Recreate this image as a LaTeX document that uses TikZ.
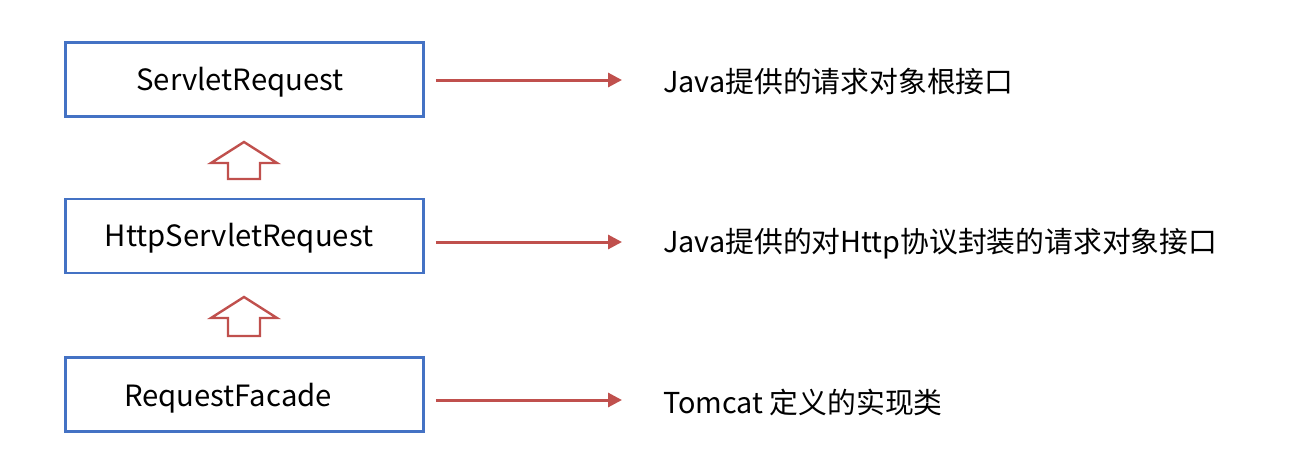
\documentclass[tikz,border=0pt]{standalone}
\usepackage{fontspec}
\setmainfont{Noto Sans CJK SC}
\usetikzlibrary{arrows.meta}
\definecolor{boxblue}{HTML}{4472C4}
\definecolor{arrred}{HTML}{C0504D}
\begin{document}
\begin{tikzpicture}[x=1pt,y=-1pt,
  cls/.style={draw=boxblue,line width=2.6pt,fill=white,minimum width=358pt,minimum height=74pt,inner sep=0pt},
  lbl/.style={inner sep=0pt,font=\fontsize{29.3}{34}\selectfont},
  desc/.style={anchor=west,inner sep=0pt,font=\fontsize{28.8}{34}\selectfont},
  redarr/.style={draw=arrred,line width=3pt,-{Triangle[length=14pt,width=14pt]}},
  hollow/.style={draw=arrred,line width=2.4pt,fill=white,line join=miter}]
\useasboundingbox (0,0) rectangle (1304,464);
\node[cls] (a) at (244.5,79.5) {};
\node[cls] (b) at (244.5,236) {};
\node[cls] (c) at (244.5,394.5) {};
\node[lbl] (la) at (240,82) {ServletRequest};
\node[lbl] (lb) at (239,238) {HttpServletRequest};
\node[lbl] (lc) at (228,398) {RequestFacade};
\node[desc] (ta) at (663,82) {Java提供的请求对象根接口};
\node[desc] (tb) at (663,244) {Java提供的对Http协议封装的请求对象接口};
\node[desc] (tc) at (663,402) {Tomcat 定义的实现类};
\coordinate (ea) at (622,80);
\coordinate (eb) at (622,242);
\coordinate (ec) at (622,400);
\draw[redarr] (a.east |- ea) ++(11,0) coordinate (sa) -- (ea);
\draw[redarr] (b.east |- eb) ++(11,0) coordinate (sb) -- (eb);
\draw[redarr] (c.east |- ec) ++(11,0) coordinate (sc) -- (ec);
% hollow up arrows
\foreach \t/\bs in {142/179, 297/336}{
  \draw[hollow] (244,\t) -- (277,\t+21) -- (260,\t+21) -- (260,\bs) -- (228,\bs) -- (228,\t+21) -- (211,\t+21) -- cycle;
}
\end{tikzpicture}
\end{document}
